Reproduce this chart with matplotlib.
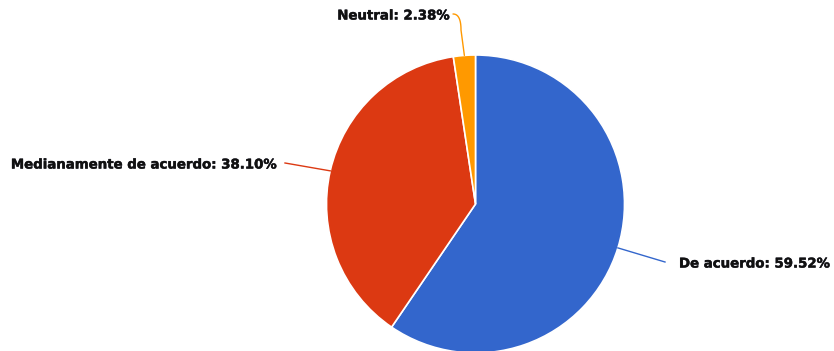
import numpy as np
import matplotlib
matplotlib.use("Agg")
import matplotlib.pyplot as plt
import matplotlib.patheffects as pe

categories = ["De acuerdo", "Medianamente de acuerdo", "Neutral"]
values = [59.52, 38.10, 2.38]
colors = ["#3366CC", "#DC3912", "#FF9900"]

W, H = 834, 351
fig = plt.figure(figsize=(W / 100, H / 100), dpi=100)
ax = fig.add_axes([0, 0, 1, 1])

cx, cy, r = 475.5, H - 204, 149
wedges, _ = ax.pie(values, startangle=90, counterclock=False, center=(cx, cy),
                   radius=r, colors=colors,
                   wedgeprops=dict(edgecolor="white", linewidth=1.2))
ax.set_xlim(0, W)
ax.set_ylim(0, H)
ax.set_aspect("equal")
ax.axis("off")

# label layout: (elbow point, text anchor, alignment) in pixel space (y up)
layout = [
    ((665, H - 262), (679, H - 264), "left"),
    ((285, H - 163), (278, H - 165), "right"),
    ((461, H - 30), (450, H - 16), "right"),
]

outline = [pe.withStroke(linewidth=0.35, foreground="#1a1a2a")]

for w, cat, val, col, (elbow, anchor, ha) in zip(wedges, categories, values, colors, layout):
    mid = np.deg2rad((w.theta1 + w.theta2) / 2)
    start = (cx + r * np.cos(mid), cy + r * np.sin(mid))
    if cat == "Neutral":
        # straight rise, then a quadratic bend toward the label
        seg_x = [start[0], elbow[0]]
        seg_y = [start[1], elbow[1]]
        t = np.linspace(0, 1, 30)
        p0 = np.array(elbow)
        p1 = np.array([elbow[0], anchor[1] + 2])
        p2 = np.array([anchor[0] + 3, anchor[1] + 2])
        bez = ((1 - t) ** 2)[:, None] * p0 + (2 * (1 - t) * t)[:, None] * p1 + (t ** 2)[:, None] * p2
        px = np.concatenate([seg_x, bez[:, 0]])
        py = np.concatenate([seg_y, bez[:, 1]])
        ax.plot(px, py, color=col, lw=1, solid_capstyle="round")
    else:
        ax.plot([start[0], elbow[0]], [start[1], elbow[1]], color=col, lw=1)
    ax.text(anchor[0], anchor[1], f"{cat}: {val:.2f}%", ha=ha, va="center",
            fontsize=9.6, fontweight="bold", color="#111111", family="DejaVu Sans",
            path_effects=outline)

fig.savefig("out.png", dpi=100)
